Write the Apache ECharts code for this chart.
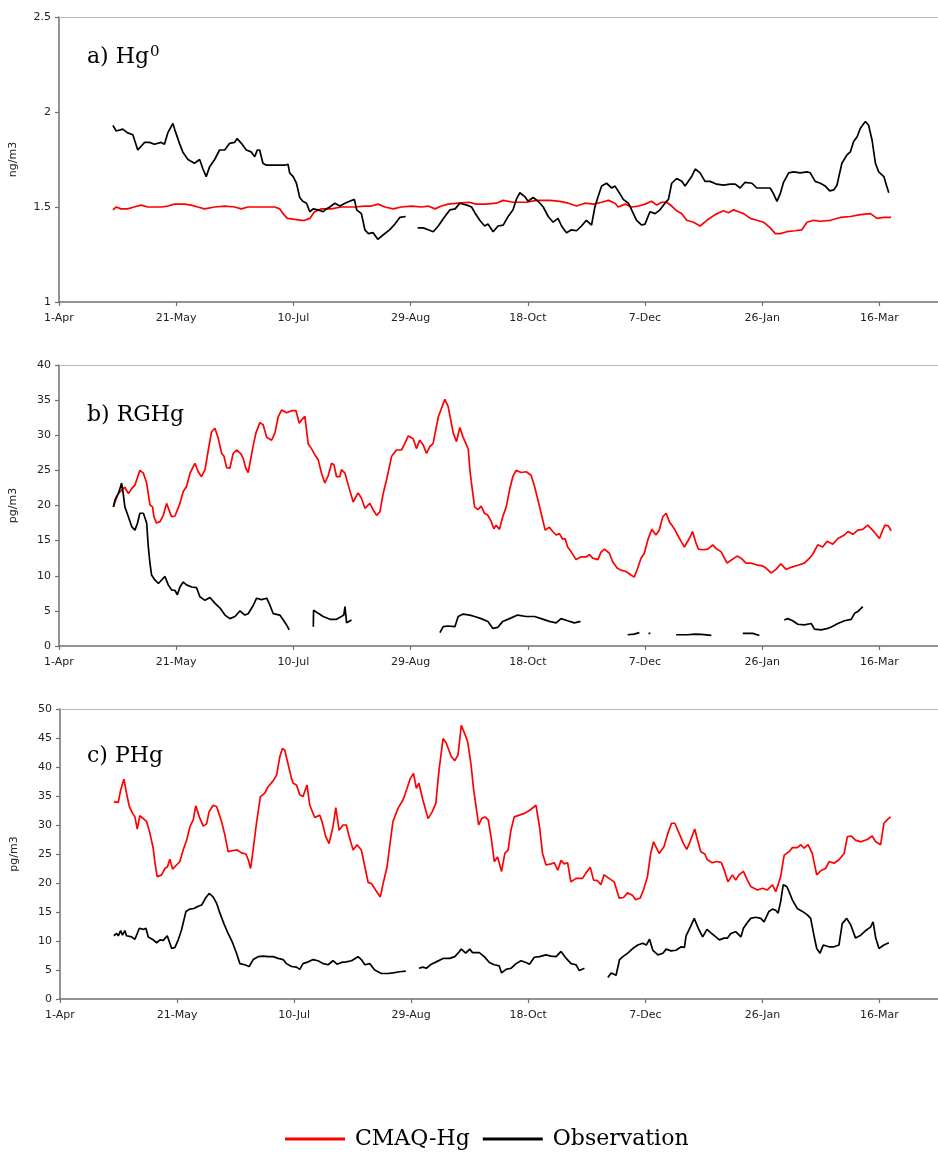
<!DOCTYPE html>
<html>
<head>
<meta charset="utf-8">
<script src="https://cdn.jsdelivr.net/npm/echarts@6/dist/echarts.min.js"></script>
<style>
html,body{margin:0;padding:0;background:#fff;}
#chart{width:938px;height:1155px;}
</style>
</head>
<body>
<div id="chart"></div>
<script>
// x = days after 1-Apr
const xTickLabels = ['1-Apr','21-May','10-Jul','29-Aug','18-Oct','7-Dec','26-Jan','16-Mar'];
const seriesNames = ['CMAQ-Hg','Observation'];
const panelTitles = ['a) Hg', 'b) RGHg', 'c) PHg'];

const hgModel = [[23,1.485],[24.4,1.50],[26.5,1.49],[29.3,1.49],[32,1.50],[35,1.51],[38,1.50],[40.7,1.50],[43.6,1.50],[46.4,1.505],[49.3,1.515],[53.6,1.515],[56.4,1.51],[59.2,1.50],[62.1,1.49],[66.4,1.50],[70.7,1.505],[74.9,1.50],[77.8,1.49],[80.6,1.50],[86.3,1.50],[89.2,1.50],[92,1.50],[94.2,1.49],[95.6,1.465],[97.4,1.44],[100.6,1.435],[103.4,1.43],[104.8,1.43],[107,1.44],[109,1.475],[112,1.49],[116,1.49],[120.5,1.50],[126,1.50],[130.5,1.505],[133.3,1.505],[136.2,1.515],[139,1.50],[142.6,1.49],[146,1.50],[150.4,1.505],[154.7,1.50],[157.5,1.505],[160.4,1.49],[163.2,1.505],[166,1.515],[170.4,1.52],[175,1.525],[178,1.515],[182,1.515],[186.6,1.52],[189.5,1.535],[193.7,1.525],[199.4,1.525],[203.7,1.535],[209.4,1.535],[213.7,1.53],[217.3,1.52],[220.8,1.505],[224.4,1.52],[228,1.515],[231.5,1.525],[234.4,1.535],[237.2,1.52],[238.6,1.50],[241.5,1.515],[244.3,1.50],[247.2,1.505],[250,1.515],[252.8,1.53],[255,1.51],[257.1,1.525],[259.2,1.525],[261.4,1.505],[263.5,1.48],[265.7,1.465],[267.8,1.43],[270.7,1.42],[273.5,1.40],[276.4,1.43],[279.9,1.46],[283.5,1.48],[285.6,1.47],[287.8,1.485],[289.9,1.475],[292.1,1.465],[294.9,1.44],[297.7,1.43],[300.6,1.42],[303.4,1.39],[305.6,1.36],[307.7,1.36],[310.5,1.37],[314,1.375],[316.9,1.38],[319.1,1.42],[322,1.43],[324.8,1.425],[329.1,1.43],[333.3,1.445],[337.6,1.45],[341.9,1.46],[346.2,1.465],[349,1.44],[351.9,1.445],[355,1.445]];

const hgObs = [[23,1.93],[24.4,1.90],[27.2,1.91],[29.3,1.89],[31.5,1.88],[33.6,1.80],[36.5,1.84],[38.6,1.84],[40.7,1.83],[43.6,1.84],[45,1.83],[46.4,1.89],[48.6,1.94],[49.3,1.91],[51.4,1.835],[52.8,1.79],[55,1.75],[57.8,1.73],[60,1.75],[61.4,1.70],[62.8,1.66],[64.2,1.71],[66.4,1.75],[68.5,1.80],[70.7,1.80],[72.8,1.835],[74.9,1.84],[76,1.86],[77.8,1.835],[79.9,1.80],[82,1.79],[83.5,1.765],[84.6,1.80],[85.6,1.80],[87,1.73],[88.5,1.72],[90.6,1.72],[93.4,1.72],[96.3,1.72],[97.7,1.725],[98.4,1.68],[99.9,1.66],[101.3,1.625],[102.7,1.55],[104,1.53],[105.6,1.52],[107,1.475],[108.4,1.49],[110.5,1.485],[112.7,1.475],[114,1.49],[115.5,1.50],[117.7,1.52],[119.8,1.505],[122,1.52],[124,1.53],[126,1.54],[127,1.485],[129,1.465],[130.5,1.38],[132,1.36],[134,1.365],[136,1.33],[138,1.35],[141,1.38],[143.3,1.41],[145.4,1.445],[147.9,1.45],[150,null],[153,1.39],[155.4,1.39],[157.5,1.38],[159.7,1.37],[161.8,1.40],[164,1.44],[166.8,1.485],[169,1.49],[171,1.52],[174,1.51],[176,1.50],[177.4,1.47],[179.5,1.43],[181.6,1.40],[183,1.41],[185.2,1.37],[187.3,1.40],[189.5,1.405],[191.6,1.45],[193.7,1.485],[195.1,1.54],[196.6,1.575],[198.7,1.555],[200.1,1.53],[202.3,1.55],[204.4,1.53],[206.6,1.50],[208.7,1.45],[210.8,1.42],[212.9,1.44],[214.4,1.40],[216.5,1.365],[218.7,1.38],[220.8,1.375],[222.9,1.40],[225,1.43],[227.2,1.405],[228.6,1.50],[230,1.555],[231.5,1.61],[233.6,1.625],[235.8,1.60],[237.2,1.61],[239.3,1.57],[240.7,1.54],[242.9,1.52],[244.3,1.485],[246.4,1.43],[248.6,1.405],[250,1.41],[252.1,1.475],[254.3,1.465],[256.4,1.485],[258.5,1.52],[260,1.54],[261.4,1.625],[263.5,1.65],[265.7,1.635],[267.1,1.61],[268.5,1.635],[269.9,1.66],[271.4,1.70],[273.5,1.68],[275.6,1.635],[277.8,1.635],[280.6,1.62],[283.5,1.615],[286.3,1.62],[288.5,1.62],[290.6,1.60],[292.7,1.63],[295.6,1.625],[297.7,1.60],[300.6,1.60],[303.4,1.60],[304.8,1.57],[306.3,1.53],[307.7,1.57],[309.1,1.63],[311.3,1.68],[313.4,1.685],[316.2,1.68],[319.1,1.685],[320.5,1.68],[322.6,1.635],[324.8,1.625],[326.9,1.61],[328.8,1.585],[330.5,1.59],[331.9,1.615],[334,1.73],[336.2,1.775],[337.6,1.79],[339,1.845],[340.5,1.87],[341.9,1.915],[344,1.95],[345.4,1.93],[346.9,1.85],[348.3,1.73],[349.7,1.685],[351.9,1.66],[353,1.615],[354,1.575]];

const rghgModel = [[23.2,19.8],[23.9,20.5],[25.3,21.7],[26.7,22.2],[28.1,22.6],[29.6,21.7],[31,22.4],[32.4,22.9],[33.4,23.9],[34.5,25.0],[36,24.6],[37.4,23.2],[38.8,20.1],[39.9,19.8],[40.5,18.4],[41.6,17.5],[43.1,17.7],[44.5,18.6],[45.9,20.3],[46.6,20.1],[48,18.4],[49.5,18.5],[50.2,18.6],[51.6,20.3],[53,22.0],[54.4,22.7],[55.9,24.6],[58,26.0],[59.4,24.8],[60.8,24.1],[62.3,25.1],[63.7,27.9],[65.1,30.5],[66.5,31.0],[67.9,29.6],[69.4,27.4],[70.4,27.0],[71.5,25.4],[72.9,25.3],[74.3,27.4],[75.8,27.9],[77.5,27.4],[78.6,26.7],[79.7,25.3],[80.7,24.7],[82.9,28.6],[84,30.3],[85.7,31.8],[87.1,31.5],[88.6,29.7],[90.7,29.3],[92.1,30.3],[93.5,32.6],[95,33.6],[97.1,33.2],[99.2,33.5],[101.1,33.5],[102.5,31.7],[103.5,32.2],[104.9,32.7],[106.3,28.8],[107.7,28.1],[109.2,27.2],[110.6,26.5],[112,24.6],[113.4,23.2],[114.9,24.3],[116.3,26.0],[117.3,25.8],[118.4,24.1],[119.8,24.1],[120.5,25.1],[122,24.6],[123.4,22.9],[125.5,20.5],[127.6,21.8],[129.1,21.0],[130.5,19.6],[132.6,20.3],[134,19.4],[135.5,18.6],[136.9,19.1],[138.3,21.7],[139.7,23.6],[141.9,27.0],[144,27.9],[146.1,27.9],[147.5,28.8],[149,29.9],[151.1,29.5],[152.5,28.1],[153.9,29.3],[155.4,28.6],[156.8,27.4],[158.2,28.4],[159.6,28.8],[161.8,32.6],[164.6,35.1],[166,34.1],[168.2,30.3],[169.6,29.1],[171,31.1],[172.4,29.7],[173.9,28.6],[174.6,28.0],[175.3,25.1],[175.8,23.6],[177.3,19.8],[178.7,19.4],[180.1,19.9],[181.5,18.9],[183,18.6],[184.4,17.7],[185.5,16.7],[186.5,17.2],[187.9,16.6],[189.3,18.4],[190.8,19.8],[192.2,22.2],[193.6,24.1],[195,25.0],[197.2,24.7],[199.3,24.8],[201.4,24.3],[202.9,22.7],[204.3,20.8],[205.7,18.9],[207.4,16.5],[209.2,16.9],[210.6,16.3],[212.1,15.8],[213.5,16.0],[214.9,15.2],[215.9,15.3],[217,14.1],[218.5,13.4],[220.6,12.3],[222.8,12.7],[224.9,12.7],[226.3,13.0],[227.7,12.5],[229.9,12.3],[231.3,13.4],[232.7,13.8],[234.8,13.2],[236.2,12.0],[238.1,11.1],[239.7,10.8],[241.9,10.6],[244,10.1],[245.4,9.8],[246.9,11.1],[248.3,12.5],[249.7,13.2],[251.2,15.1],[252.9,16.6],[254.7,15.8],[256.1,16.5],[257.6,18.4],[259,18.9],[260.4,17.7],[262.5,16.7],[263.9,15.8],[265.4,14.9],[266.8,14.1],[268.9,15.3],[270.3,16.3],[271.8,14.6],[272.8,13.8],[274.6,13.7],[276.8,13.8],[278.9,14.4],[280.3,13.9],[282.5,13.4],[283.9,12.5],[285,11.8],[286.7,12.2],[289.3,12.8],[291,12.5],[293.1,11.8],[295.2,11.8],[298.1,11.5],[300.2,11.4],[301.6,11.1],[303.8,10.4],[305.9,10.9],[308,11.7],[310.2,10.9],[312.3,11.2],[315.2,11.5],[318,11.8],[320.2,12.5],[321.6,13.1],[323.7,14.4],[325.8,14.1],[327.7,14.9],[330.1,14.5],[332.3,15.3],[335.1,15.8],[336.6,16.3],[338.7,15.9],[340.8,16.5],[342.9,16.6],[345,17.2],[347.1,16.5],[348.6,15.9],[350,15.3],[351.4,16.5],[352.4,17.2],[353.8,17.1],[355,16.4]];

const rghgObs = [[23.2,19.8],[23.9,20.8],[24.6,21.3],[25.3,21.7],[26,22.4],[26.7,23.2],[27.4,21.7],[28.1,19.8],[29.6,18.4],[31,17.0],[32.4,16.5],[33.5,17.5],[34.5,18.9],[36,18.9],[37.4,17.5],[38.1,14.1],[38.8,11.8],[39.5,10.1],[40.9,9.4],[42.4,8.9],[43.8,9.4],[45.2,9.9],[46.6,8.7],[48,8.0],[49.5,7.9],[50.5,7.3],[51.6,8.4],[53,9.1],[54.4,8.7],[56.6,8.4],[58.7,8.3],[60.1,7.0],[62.3,6.5],[64.4,6.9],[66.5,6.1],[68.7,5.4],[70.8,4.4],[72.9,3.9],[75.1,4.2],[77.2,5.0],[79.3,4.4],[80.7,4.6],[82.9,5.8],[84.3,6.8],[86.4,6.6],[88.6,6.8],[90,5.8],[91.4,4.6],[94.2,4.4],[95.7,3.7],[97.1,3.0],[98.2,2.3],[103,null],[108.5,2.75],[108.6,5.1],[110.6,4.65],[112.7,4.2],[115.6,3.8],[118.4,3.8],[120.5,4.2],[121.5,4.4],[122,5.6],[122.7,3.3],[124.8,3.7],[140,null],[162.5,1.9],[163.9,2.75],[166,2.85],[168.9,2.75],[170.3,4.2],[172.4,4.55],[175.3,4.4],[177.3,4.2],[180.1,3.9],[183,3.5],[185.1,2.5],[187.2,2.65],[189.3,3.5],[192.2,3.9],[195.7,4.4],[199.3,4.2],[202.9,4.2],[205.7,3.9],[209.2,3.5],[212.1,3.3],[214.2,3.9],[217,3.6],[219.9,3.3],[222.5,3.5],[230,null],[242.6,1.6],[245.4,1.7],[247.6,1.9],[249.5,null],[251.5,1.8],[252.3,1.8],[258,null],[263.3,1.6],[268.3,1.6],[271.1,1.7],[274,1.65],[278.3,1.5],[285,null],[291.7,1.8],[296,1.8],[298.8,1.5],[304,null],[309.4,3.7],[310.9,3.9],[313,3.6],[315.2,3.1],[318,3.0],[320.9,3.2],[322.3,2.4],[325.1,2.3],[328,2.5],[330.1,2.8],[332.3,3.2],[335.1,3.6],[338,3.8],[339.4,4.65],[340.8,4.9],[342.9,5.6]];

const phgModel = [[23,34.0],[24.9,33.9],[25.9,36.0],[27.3,37.9],[28.4,35.5],[29.6,33.2],[31,32.0],[32,31.4],[33,29.3],[34.1,31.6],[35.6,31.1],[37,30.6],[38.4,28.6],[39.8,26.0],[40.5,23.7],[41.5,21.1],[43.4,21.4],[44.8,22.5],[45.9,22.8],[46.9,24.1],[48.1,22.4],[49.8,23.1],[51.2,23.7],[52.6,25.7],[54.1,27.4],[55.5,29.7],[56.9,30.9],[58,33.3],[59.5,31.4],[61.2,29.8],[62.6,30.2],[63.7,32.3],[65.4,33.4],[66.9,33.2],[67.6,33.3],[69,30.6],[70.4,28.3],[71.8,25.4],[74,25.6],[75.7,25.7],[77.5,25.2],[79.4,25.0],[80.4,24.0],[81.4,22.5],[82.5,25.7],[83.9,30.3],[85.6,34.9],[87.5,35.5],[88.9,36.6],[91,37.6],[92.5,38.6],[93.9,41.8],[95,43.2],[96,42.9],[97,41.2],[98.9,38.0],[99.6,37.2],[101,36.9],[102.4,35.2],[103.8,34.9],[105.5,36.9],[106.7,33.4],[108.8,31.3],[111,31.7],[112.1,30.3],[113.5,28.0],[114.9,26.8],[116.6,29.7],[117.8,33.0],[119.2,29.1],[120.9,30.0],[122.3,30.0],[123.5,28.0],[125.2,25.7],[126.9,26.6],[128.7,25.7],[130.2,22.8],[131.6,20.1],[133,19.9],[134.8,18.8],[136.8,17.6],[138,19.9],[139.7,22.8],[140.8,26.3],[142.2,30.6],[144.4,32.9],[146.5,34.3],[148.2,36.3],[149.6,38.0],[151,38.9],[152.2,36.3],[153.3,37.2],[155,34.3],[157.2,31.1],[159,32.3],[160.5,33.7],[161.9,39.5],[163.6,44.9],[165,44.1],[167.1,41.8],[168.6,41.1],[170,42.1],[171.4,47.2],[172.8,45.8],[174.1,44.4],[175.5,40.6],[176.7,36.0],[177.7,33.2],[178.8,30.0],[180.1,31.1],[181.5,31.4],[182.9,30.9],[184.1,28.0],[185.5,23.7],[186.9,24.5],[188.6,22.0],[190,25.1],[191.4,25.7],[192.6,29.1],[194,31.4],[196.2,31.7],[198.3,32.0],[200.5,32.5],[203.3,33.4],[204.8,29.7],[206.1,25.1],[207.6,23.1],[209.7,23.3],[211.1,23.5],[212.6,22.2],[214,23.9],[215.4,23.3],[216.8,23.5],[218.2,20.2],[220.4,20.8],[223.2,20.8],[224.6,21.7],[226.5,22.7],[227.9,20.5],[229.6,20.4],[231,19.7],[232.4,21.4],[234.5,20.8],[236.7,20.2],[238.8,17.4],[240.7,17.5],[242.4,18.3],[244.5,17.9],[245.9,17.1],[247.8,17.4],[249.2,18.8],[250.9,21.1],[252.3,25.1],[253.5,27.1],[255.9,25.1],[258,26.3],[259.4,28.3],[261.2,30.3],[262.6,30.3],[264.4,28.6],[266.3,26.8],[267.7,25.8],[269.1,27.1],[271.1,29.3],[272.3,27.4],[273.7,25.4],[275.4,25.0],[276.5,24.0],[278.6,23.5],[280.5,23.7],[282.5,23.5],[283.9,22.0],[285.3,20.2],[287.2,21.4],[288.6,20.5],[290,21.4],[291.9,22.0],[293.6,20.5],[295,19.4],[297.9,18.8],[300,19.1],[302.1,18.8],[304.3,19.7],[305.7,18.5],[307.8,21.1],[309.3,24.8],[311.4,25.4],[312.8,26.1],[314.9,26.1],[316.4,26.6],[317.8,26.0],[319.5,26.6],[321.3,25.1],[323.2,21.4],[325.2,22.2],[327,22.5],[328.5,23.7],[330.6,23.4],[332.7,24.0],[334.9,25.1],[336.3,28.0],[338,28.1],[339.8,27.4],[342,27.1],[344.8,27.5],[346.9,28.1],[348.4,27.1],[350.5,26.6],[351.9,30.3],[353.6,31.0],[354.8,31.4]];

const phgObs = [[23,10.9],[24.2,11.3],[24.9,10.9],[25.9,11.8],[26.7,11.0],[27.7,11.8],[28.4,10.9],[30.6,10.7],[32,10.3],[33.9,12.2],[35.6,12.0],[36.7,12.2],[37.7,10.7],[39.8,10.2],[41.3,9.7],[42.7,10.2],[44.1,10.1],[45.8,10.9],[47.7,8.7],[49.1,8.9],[50.5,10.2],[51.9,11.9],[53.8,15.1],[55.5,15.5],[57.2,15.6],[59,16.0],[60.5,16.2],[62.3,17.5],[63.7,18.2],[65.4,17.6],[66.9,16.5],[68.3,14.8],[70,13.0],[71.8,11.3],[73.7,9.7],[75.4,7.9],[76.8,6.1],[78.9,5.9],[80.8,5.6],[82.5,6.8],[84.6,7.3],[86.8,7.4],[88.9,7.3],[91,7.3],[93.2,7.0],[95.3,6.8],[96.7,6.1],[98.9,5.6],[101,5.5],[102.4,5.1],[103.8,6.1],[106,6.4],[108.1,6.8],[110.2,6.6],[112.4,6.1],[114.5,5.9],[116.6,6.6],[118.3,6.0],[120.2,6.3],[122.3,6.4],[124.5,6.6],[127.3,7.3],[128.7,6.8],[130.2,5.9],[132.3,6.1],[134.4,5.0],[137.3,4.4],[140.1,4.4],[142.2,4.5],[145.1,4.7],[147.7,4.8],[150.5,null],[153.3,5.3],[155,5.5],[156.5,5.3],[158.6,6.0],[160.7,6.4],[163.6,7.0],[166.4,7.0],[168.6,7.3],[170,7.9],[171.4,8.6],[173.3,7.9],[175,8.6],[176.2,8.0],[179.1,8.0],[181.2,7.3],[183.4,6.3],[185.5,5.9],[187.6,5.7],[188.6,4.5],[190.5,5.1],[192.6,5.3],[194.8,6.1],[196.9,6.6],[199,6.3],[200.5,6.0],[202.6,7.2],[204.8,7.3],[207.6,7.6],[209.7,7.4],[211.9,7.3],[214,8.2],[216.2,7.0],[218.3,6.1],[220.4,5.9],[221.8,4.9],[224,5.3],[229,null],[234,3.7],[235.4,4.5],[237.5,4.1],[239,6.8],[240.4,7.3],[242.5,7.9],[244.6,8.7],[246.8,9.3],[248.9,9.6],[250.4,9.3],[251.8,10.3],[253.2,8.4],[255.4,7.6],[257.5,7.9],[258.9,8.6],[261,8.3],[263.1,8.4],[265.3,9.0],[266.7,8.9],[267.4,10.9],[269.2,12.4],[270.9,13.9],[272.6,12.2],[274.5,10.7],[276.3,12.0],[278,11.4],[280.1,10.7],[281.6,10.2],[283.6,10.5],[285.1,10.5],[286.5,11.3],[288.6,11.6],[290.8,10.7],[291.9,12.2],[293.6,13.2],[295,13.9],[297.1,14.1],[299.3,13.9],[300.7,13.3],[302.8,15.1],[304.3,15.5],[305.7,15.3],[306.7,14.8],[307.8,16.8],[308.9,19.7],[310.4,19.4],[311.4,18.5],[312.8,17.1],[314.9,15.6],[317.1,15.1],[319.2,14.5],[320.6,13.9],[322,11.0],[323.2,8.7],[324.6,7.9],[326,9.3],[328.4,9.0],[330.6,9.0],[332.7,9.3],[334.1,13.0],[336,13.9],[337.7,12.8],[339.8,10.5],[342,11.0],[344.1,11.8],[346.2,12.4],[347.3,13.3],[348.4,10.5],[349.8,8.7],[351.9,9.3],[354,9.7]];

const panels = [
  {model: hgModel, obs: hgObs, yMin: 1, yMax: 2.5, yInt: 0.5, unit: 'ng/m3', grid: {left: 58, top: 17, height: 285}, titleTop: 40, sup: true},
  {model: rghgModel, obs: rghgObs, yMin: 0, yMax: 40, yInt: 5, unit: 'pg/m3', grid: {left: 59, top: 365, height: 281}, titleTop: 398, sup: false},
  {model: phgModel, obs: phgObs, yMin: 0, yMax: 50, yInt: 5, unit: 'pg/m3', grid: {left: 60, top: 709, height: 290}, titleTop: 739, sup: false}
];

const toData = arr => arr.map(p => [p[0], p[1] === null ? '-' : p[1]]);
const labelFont = {fontFamily: 'DejaVu Sans', fontSize: 11, color: '#222'};

const grids = [], xAxes = [], yAxes = [], series = [], titles = [];
panels.forEach((p, i) => {
  grids.push(Object.assign({right: 0}, p.grid));
  xAxes.push({
    type: 'value', gridIndex: i, min: 0, max: 375, interval: 50, position: 'bottom',
    axisLine: {show: true, lineStyle: {color: '#707070', width: 1.5}},
    axisTick: {show: true, length: 4, lineStyle: {color: '#707070', width: 1.2}},
    splitLine: {show: false},
    axisLabel: Object.assign({margin: 11, showMaxLabel: false, formatter: v => (v % 50 === 0 && xTickLabels[v / 50]) ? xTickLabels[v / 50] : ''}, labelFont)
  });
  xAxes.push({
    type: 'value', gridIndex: i, min: 0, max: 375, position: 'top',
    axisLine: {show: true, lineStyle: {color: '#b8b8b8', width: 1.2}},
    axisTick: {show: false}, axisLabel: {show: false}, splitLine: {show: false}
  });
  yAxes.push({
    type: 'value', gridIndex: i, min: p.yMin, max: p.yMax, interval: p.yInt,
    name: p.unit, nameLocation: 'middle', nameGap: 40,
    nameTextStyle: labelFont,
    axisLine: {show: true, lineStyle: {color: '#707070', width: 1.5}},
    axisTick: {show: true, length: 4, lineStyle: {color: '#707070', width: 1.2}},
    splitLine: {show: false},
    axisLabel: Object.assign({margin: 8}, labelFont)
  });
  series.push({
    name: seriesNames[0], type: 'line', xAxisIndex: i * 2, yAxisIndex: i,
    data: toData(p.model), showSymbol: false, connectNulls: false,
    lineStyle: {color: '#ff0000', width: 1.7}, itemStyle: {color: '#ff0000'}, z: 2
  });
  series.push({
    name: seriesNames[1], type: 'line', xAxisIndex: i * 2, yAxisIndex: i,
    data: toData(p.obs), showSymbol: false, connectNulls: false,
    lineStyle: {color: '#000000', width: 1.7}, itemStyle: {color: '#000000'}, z: 3
  });
  titles.push({
    left: 82, top: p.titleTop,
    text: p.sup ? '{m|' + panelTitles[i] + '}{s|0}' : '{m|' + panelTitles[i] + '}',
    textStyle: {
      fontWeight: 'normal',
      rich: {
        m: {fontFamily: 'DejaVu Serif', fontSize: 22, fontWeight: 'normal', color: '#000', lineHeight: 24},
        s: {fontFamily: 'DejaVu Serif', fontSize: 15, fontWeight: 'normal', color: '#000', verticalAlign: 'top', lineHeight: 24, padding: [0, 0, 0, 1]}
      }
    }
  });
});

const chart = echarts.init(document.getElementById('chart'), null, {renderer: 'canvas'});
chart.setOption({
  animation: false,
  backgroundColor: '#ffffff',
  title: titles,
  grid: grids,
  xAxis: xAxes,
  yAxis: yAxes,
  legend: {
    data: seriesNames, left: 285, top: 1128, padding: 0,
    icon: 'rect', itemWidth: 60, itemHeight: 3, itemGap: 13,
    textStyle: {fontFamily: 'DejaVu Serif', fontSize: 22, color: '#000', padding: [0, 0, 0, 5]}
  },
  series: series
});
</script>
</body>
</html>
